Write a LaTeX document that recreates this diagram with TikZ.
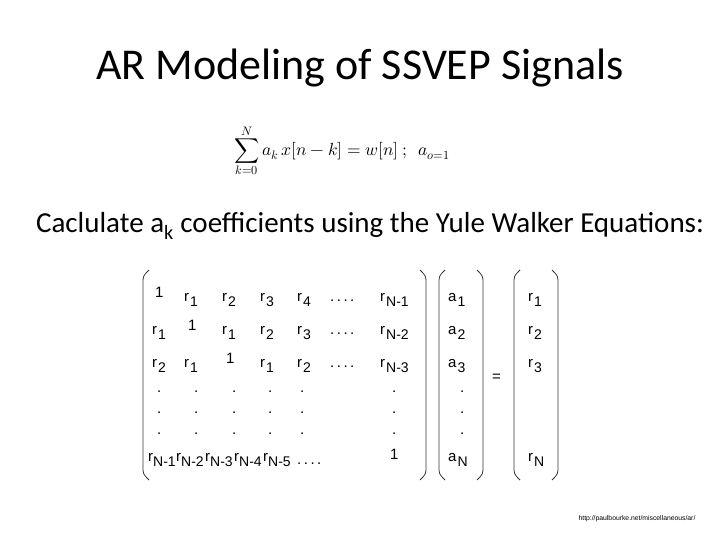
\documentclass[tikz,border=0pt]{standalone}
\usepackage{fontspec}
\usepackage{unicode-math}
\setmainfont{Carlito}
\setmathfont{Latin Modern Math}
\newfontfamily\mx{Liberation Sans}
\begin{document}
\begin{tikzpicture}[x=1pt,y=-1pt,
  ent/.style={inner sep=0pt,anchor=base west,font=\mx\fontsize{15}{17}\selectfont},
  br/.style={line width=0.8pt,black!80}]
\useasboundingbox (0,0) rectangle (720,540);
\newcommand\E[4]{\node[ent] at (#1,#2) {#3\raisebox{-5pt}{\fontsize{14}{16}\selectfont\kern1pt #4}};}
\newcommand\F[4]{\node[ent] at (#1,#2) {#3\raisebox{-5pt}{\fontsize{14}{16}\selectfont #4}};}
\newcommand\D[2]{\node[ent] at (#1,#2) {.};}
\node (title) at (360,68) {\fontsize{44}{50}\selectfont AR Modeling of SSVEP Signals};
\node (eq) at (342,151) {\fontsize{17.5}{21}\selectfont $\displaystyle\sum_{k=0}^{N} a_k\, x[n-k] = w[n]\ ;\ \ a_{o=1}$};
\node (cap) at (370,226) {\fontsize{29}{34}\selectfont Caclulate a\textsubscript{k} coefficients using the Yule Walker Equations:};
% rows
\E{155}{297}{1}{} \E{184}{301}{r}{1} \E{222}{301}{r}{2} \E{260}{301}{r}{3} \E{297}{301}{r}{4}
\node[ent] at (330,301) {.\,.\,.\,.}; \E{380}{301}{r}{N-1}
\E{152}{334}{r}{1} \E{188}{330}{1}{} \E{222}{334}{r}{1} \E{260}{334}{r}{2} \E{297}{334}{r}{3}
\node[ent] at (330,334) {.\,.\,.\,.}; \E{380}{334}{r}{N-2}
\E{152}{367}{r}{2} \E{184}{367}{r}{1} \E{226}{363}{1}{} \E{260}{367}{r}{1} \E{297}{367}{r}{2}
\node[ent] at (330,367) {.\,.\,.\,.}; \E{380}{367}{r}{N-3}
\foreach \yy in {392,413,434}{
  \foreach \xx in {157,194,232,268,300,392}{\D{\xx}{\yy}}
  \D{460}{\yy}}
\F{148}{461}{r}{N-1} \F{176}{461}{r}{N-2} \F{205}{461}{r}{N-3} \F{234}{461}{r}{N-4} \F{263}{461}{r}{N-5}
\node[ent] at (297,464) {.\,.\,.\,.}; \node[ent] at (390,459) {1};
\E{448}{301}{a}{1} \E{448}{334}{a}{2} \E{448}{367}{a}{3} \E{448}{461}{a}{N}
\node[ent] at (492,381) {=};
\E{528}{301}{r}{1} \E{528}{334}{r}{2} \E{528}{367}{r}{3} \E{528}{461}{r}{N}
% brackets
\foreach \l/\r in {143/426,439/483,514/558}{
  \draw[br] (\l+6,270) .. controls (\l,276) .. (\l,284) -- (\l,466) .. controls (\l,474) .. (\l+6,480);
  \draw[br] (\r-6,270) .. controls (\r,276) .. (\r,284) -- (\r,466) .. controls (\r,474) .. (\r-6,480);}
\node (url) at (637,519) {\mx\fontsize{6.8}{7}\selectfont http://paulbourke.net/miscellaneous/ar/};
\end{tikzpicture}
\end{document}
